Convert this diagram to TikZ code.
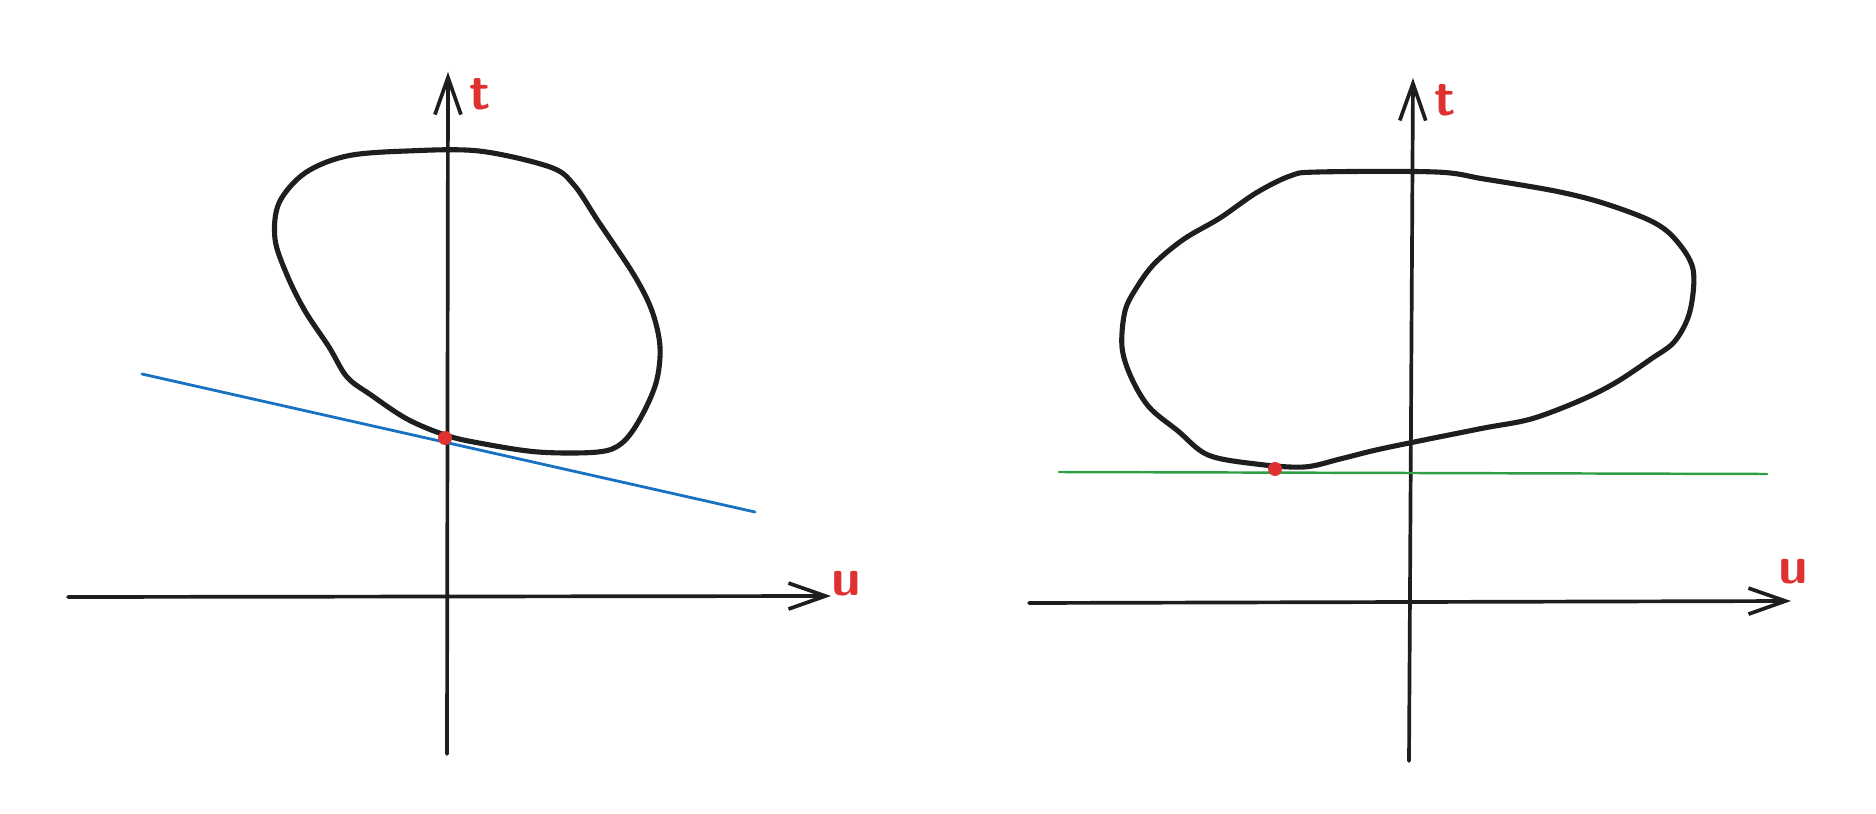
\documentclass[tikz,border=0pt]{standalone}
\usepackage{tikz}
\usetikzlibrary{arrows.meta}
\definecolor{inkblack}{HTML}{1E1E1E}
\definecolor{inkred}{HTML}{E03131}
\definecolor{inkblue}{HTML}{1971C2}
\definecolor{inkgreen}{HTML}{2F9E44}
\tikzset{
  axis/.style={draw=inkblack,line width=2.1pt,line cap=round,
    -{Straight Barb[length=0.74cm,width=0.52cm,line width=2.1pt]}},
  loop/.style={draw=inkblack,line width=2.9pt,line join=round},
  axlabel/.style={text=inkred,font=\fontsize{30}{32}\sffamily\bfseries,inner sep=0pt},
  touch/.style={circle,fill=inkred,inner sep=0pt,minimum size=0.28cm}
}
\begin{document}
\begin{tikzpicture}[x=0.02cm,y=-0.02cm]
  \useasboundingbox (0,0) rectangle (1876,814);
  % left: tilted tangent
  \coordinate (t1s) at (447,754);
  \coordinate (t1e) at (448,72);
  \coordinate (u1s) at (68,597);
  \coordinate (u1e) at (831,596);
  \draw[axis] (t1s) -- (t1e);
  \draw[axis] (u1s) -- (u1e);
  \node[axlabel] (t1) at (480,94) {t};
  \node[axlabel] (u1) at (846,584) {u};
  \draw[loop] plot[smooth cycle,tension=0.55] coordinates {
    (407,151) (479,151) (550,167) (574,185) (598,221) (634,275)
    (652,311) (660,347) (656,383) (640,419) (622,443) (598,452)
    (538,452) (479,443) (445,435) (407,419) (371,395) (347,377)
    (329,347) (305,311) (287,275) (275,239) (279,203) (305,173)
    (347,156)};
  \coordinate (b1s) at (142,374);
  \coordinate (b1e) at (755,512);
  \draw[inkblue,line width=1.6pt,line cap=round] (b1s) -- (b1e);
  \node[touch] (p1) at (445,438) {};
  % right: horizontal tangent
  \coordinate (t2s) at (1409,761);
  \coordinate (t2e) at (1413,78);
  \coordinate (u2s) at (1029,603);
  \coordinate (u2e) at (1791,601);
  \draw[axis] (t2s) -- (t2e);
  \draw[axis] (u2s) -- (u2e);
  \node[axlabel] (t2) at (1445,100) {t};
  \node[axlabel] (u2) at (1793,572) {u};
  \draw[loop] plot[smooth cycle,tension=0.55] coordinates {
    (1318,172) (1436,172) (1484,179) (1555,191) (1603,203) (1651,221)
    (1675,239) (1693,269) (1690,311) (1675,341) (1651,359) (1615,383)
    (1579,401) (1531,419) (1484,428) (1424,440) (1376,450) (1340,459)
    (1304,467) (1256,464) (1208,455) (1178,431) (1149,407) (1131,377)
    (1122,347) (1125,311) (1137,287) (1155,263) (1184,239) (1220,218)
    (1256,193) (1290,176)};
  \coordinate (g2s) at (1059,472);
  \coordinate (g2e) at (1767,474);
  \draw[inkgreen,line width=1.4pt,line cap=round] (g2s) -- (g2e);
  \node[touch] (p2) at (1275,469) {};
\end{tikzpicture}
\end{document}
